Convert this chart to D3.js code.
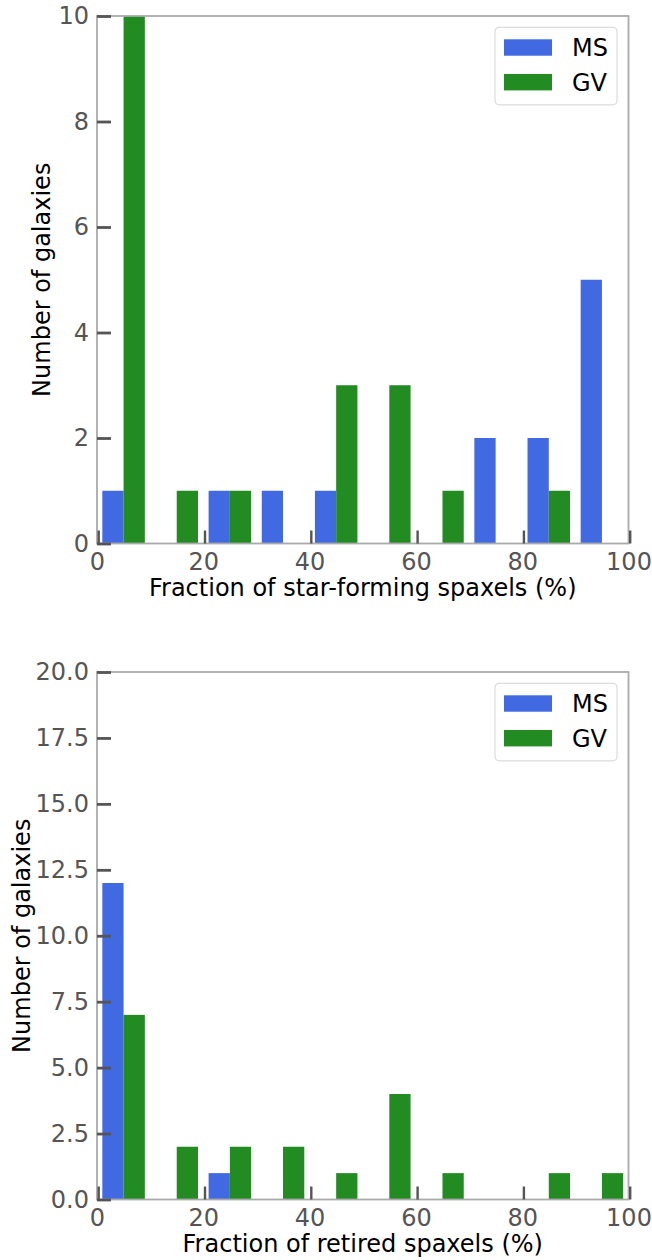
<!DOCTYPE html>
<html>
<head>
<meta charset="utf-8">
<script src="https://cdn.jsdelivr.net/npm/d3@7"></script>
<style>
  body { margin: 0; background: #fff; }
  svg text { font-family: "DejaVu Sans", sans-serif; }
</style>
</head>
<body>
<svg id="chart" width="652" height="1260"></svg>
<script>
// histogram bins (left edges, width 10)
const binStarts = [0, 10, 20, 30, 40, 50, 60, 70, 80, 90];
const seriesNames = ["MS", "GV"];
const seriesColors = ["#4169e1", "#228b22"];

// star-forming spaxel fraction
const sfMS = [1, 0, 1, 1, 1, 0, 0, 2, 2, 5];
const sfGV = [10, 1, 1, 0, 3, 3, 1, 0, 1, 0];
const sfYTicks = [0, 2, 4, 6, 8, 10];

// retired spaxel fraction
const retMS = [12, 0, 1, 0, 0, 0, 0, 0, 0, 0];
const retGV = [7, 2, 2, 2, 1, 4, 1, 0, 1, 1];
const retYTicks = [0, 2.5, 5, 7.5, 10, 12.5, 15, 17.5, 20];

const xTicks = [0, 20, 40, 60, 80, 100];

function draw(svg, opt) {
  let left = 97, right = 628.5;
  let top = opt.top, bottom = opt.top + 527.5;

  let g = svg.append("g");

  let x = d3.scaleLinear().domain([0, 100]).range([left, right]);
  let y = d3.scaleLinear().domain([0, opt.yMax]).range([bottom, top]);

  // bars: two side by side per bin, each 0.4 of the bin
  let series = [opt.ms, opt.gv];
  series.forEach(function(vals, s) {
    g.append("g").selectAll("rect")
      .data(binStarts.map(function(b, i) { return {b: b, v: vals[i]}; })
        .filter(function(d) { return d.v > 0; }))
      .enter().append("rect")
      .attr("x", function(d) { return x(d.b + 1 + 4 * s); })
      .attr("width", x(4) - x(0))
      .attr("y", function(d) { return y(d.v); })
      .attr("height", function(d) { return bottom - y(d.v); })
      .attr("fill", seriesColors[s]);
  });

  // spines
  g.append("rect")
    .attr("x", left).attr("y", top)
    .attr("width", right - left).attr("height", bottom - top)
    .attr("fill", "none").attr("stroke", "#aaaaaa").attr("stroke-width", 1.8);

  // y axis, ticks inside
  let yAxis = d3.axisLeft(y).tickValues(opt.yTicks)
    .tickSizeInner(-14).tickSizeOuter(0).tickPadding(8)
    .tickFormat(opt.yFmt);
  let ya = g.append("g").attr("transform", "translate(" + left + ",0)").call(yAxis);
  ya.select(".domain").remove();
  ya.selectAll(".tick line").attr("stroke", "#555").attr("stroke-width", 2.8);
  ya.selectAll(".tick text").attr("fill", "#555").attr("font-size", 24);

  // x axis, ticks inside pointing up
  let xAxis = d3.axisBottom(x).tickValues(xTicks)
    .tickSizeInner(-13).tickSizeOuter(0).tickPadding(9)
    .tickFormat(d3.format("d"));
  let xa = g.append("g").attr("transform", "translate(0," + bottom + ")").call(xAxis);
  xa.select(".domain").remove();
  xa.selectAll(".tick line").attr("stroke", "#555").attr("stroke-width", 2.4)
    .attr("transform", "translate(1.2,0)");
  xa.selectAll(".tick text").attr("fill", "#555").attr("font-size", 24);

  // axis labels
  g.append("text")
    .attr("x", (left + right) / 2).attr("y", bottom + 52)
    .attr("text-anchor", "middle").attr("font-size", 24).attr("fill", "#000")
    .text(opt.xLabel);
  g.append("text")
    .attr("transform", "translate(" + opt.yLabelX + "," + (top + bottom) / 2 + ") rotate(-90)")
    .attr("text-anchor", "middle").attr("font-size", 24).attr("fill", "#000")
    .text("Number of galaxies");

  // legend
  let lg = g.append("g").attr("transform", "translate(495," + (top + 11.3) + ")");
  lg.append("rect")
    .attr("width", 122).attr("height", 77.5).attr("rx", 4)
    .attr("fill", "#fff").attr("stroke", "#dcdcdc").attr("stroke-width", 1.2);
  seriesNames.forEach(function(name, i) {
    lg.append("rect")
      .attr("x", 9).attr("y", 12 + i * 34.7)
      .attr("width", 48).attr("height", 16.4)
      .attr("fill", seriesColors[i]);
    lg.append("text")
      .attr("x", 77).attr("y", 20.2 + i * 34.7).attr("dy", "0.35em")
      .attr("font-size", 24).attr("fill", "#000")
      .text(name);
  });
}

let svg = d3.select("#chart");

draw(svg, {
  top: 16, yMax: 10, yTicks: sfYTicks, yFmt: d3.format("d"),
  ms: sfMS, gv: sfGV,
  xLabel: "Fraction of star-forming spaxels (%)", yLabelX: 50
});

draw(svg, {
  top: 672, yMax: 20, yTicks: retYTicks, yFmt: d3.format(".1f"),
  ms: retMS, gv: retGV,
  xLabel: "Fraction of retired spaxels (%)", yLabelX: 30
});
</script>
</body>
</html>
